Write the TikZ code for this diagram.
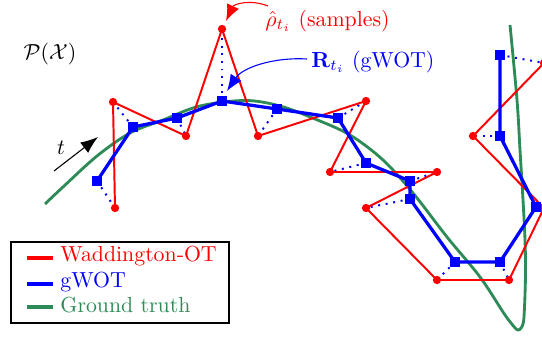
\documentclass[tikz,border=0pt]{standalone}
\usetikzlibrary{arrows.meta}
\definecolor{gtgreen}{RGB}{46,139,87}
\begin{document}
\begin{tikzpicture}[x=0.4587pt,y=-0.4587pt,
  rdot/.style={circle,fill=red,inner sep=0pt,minimum size=3.8pt},
  bsq/.style={rectangle,fill=blue,inner sep=0pt,minimum size=4.5pt},
  redline/.style={red,line width=0.9pt,line join=round},
  blueline/.style={blue,line width=1.5pt,line join=round},
  linkline/.style={blue,line width=0.9pt,dash pattern=on 0.9pt off 2.6pt},
  gtline/.style={gtgreen,line width=1.3pt},
  legline/.style={line width=1.6pt},
  legtext/.style={anchor=west,inner sep=0pt},
  callout/.style={line width=0.5pt,-{Latex[length=7.5pt,width=6pt]}}
]
\useasboundingbox (0,0) rectangle (542,337);
\clip (0,0) rectangle (542,337);

% sample points (red) and gWOT points (blue)
\foreach \n/\x/\y in {1/115/208,2/113/102,3/186/136,4/222/29,5/258/136,6/366/101,7/330/172,8/437/172,9/366/208,10/437/280,11/509/280,12/544/208,13/473/136,14/544/63}
  \coordinate (r\n) at (\x,\y);
\foreach \n/\x/\y in {1/97/181,2/133/127,3/177/118,4/222/101,5/277/109,6/338/118,7/366/163,8/410/181,9/410/199,10/455/262,11/500/262,12/536/207,13/500/136,14/500/55}
  \coordinate (b\n) at (\x,\y);

% ground truth
\draw[gtline] plot[smooth,tension=0.55] coordinates {(45,204) (63,187) (97,156) (130,133) (163,120) (200,106) (245,100.5) (280,106) (315,119) (350,135) (383,160) (413,193) (447,237) (480,277) (503,312) (511,323) (518,330) (523,324) (524.5,307) (525.5,273) (525,240) (523,200) (520,150) (517,100) (510,25)};

% links
\foreach \n in {1,...,14}
  \draw[linkline] (b\n) -- (r\n);

% Waddington-OT path
\draw[redline] (r1) \foreach \i in {2,...,14}{ -- (r\i)};
% gWOT path
\draw[blueline] (b1) \foreach \i in {2,...,14}{ -- (b\i)};

% markers
\foreach \n in {1,...,14}{
  \node[rdot] (rd\n) at (r\n) {};
  \node[bsq] (bs\n) at (b\n) {};
}

% labels
\node (space) at (50,54) {$\mathcal{P}(\mathcal{X})$};
\coordinate (tstart) at (54,171);
\coordinate (tend) at (98,137);
\draw[line width=0.5pt,-{Latex[length=8pt,width=6pt]}] (tstart) -- (tend);
\node (tlabel) at (61,148) {$t$};

\node[red,anchor=west,inner sep=0pt] (lblrho) at (265,21) {$\hat{\rho}_{t_i}$ (samples)};
\coordinate (rhostart) at (268,6);
\coordinate (rhotip) at (226,21);
\draw[red,callout] (rhostart) .. controls (250,-1) and (234,4) .. (rhotip);

\node[blue,anchor=west,inner sep=0pt] (lblR) at (311,62) {$\mathbf{R}_{t_i}$ (gWOT)};
\coordinate (Rstart) at (307,59);
\coordinate (Rtip) at (227,91);
\draw[blue,callout] (Rstart) .. controls (275,57) and (243,67) .. (Rtip);

% legend
\node[draw,line width=0.6pt,minimum width=100pt,minimum height=37.2pt,inner sep=0pt] (legend) at (120,282.5) {};
\coordinate (l1a) at (27,258); \coordinate (l1b) at (53,258);
\coordinate (l2a) at (27,284); \coordinate (l2b) at (53,284);
\coordinate (l3a) at (27,307); \coordinate (l3b) at (53,307);
\draw[legline,red] (l1a) -- (l1b);
\draw[legline,blue] (l2a) -- (l2b);
\draw[legline,gtgreen] (l3a) -- (l3b);
\node[legtext,red] (t1) at (60,256) {Waddington-OT};
\node[legtext,blue] (t2) at (60,282) {gWOT};
\node[legtext,gtgreen] (t3) at (60,305) {Ground truth};
\end{tikzpicture}
\end{document}
